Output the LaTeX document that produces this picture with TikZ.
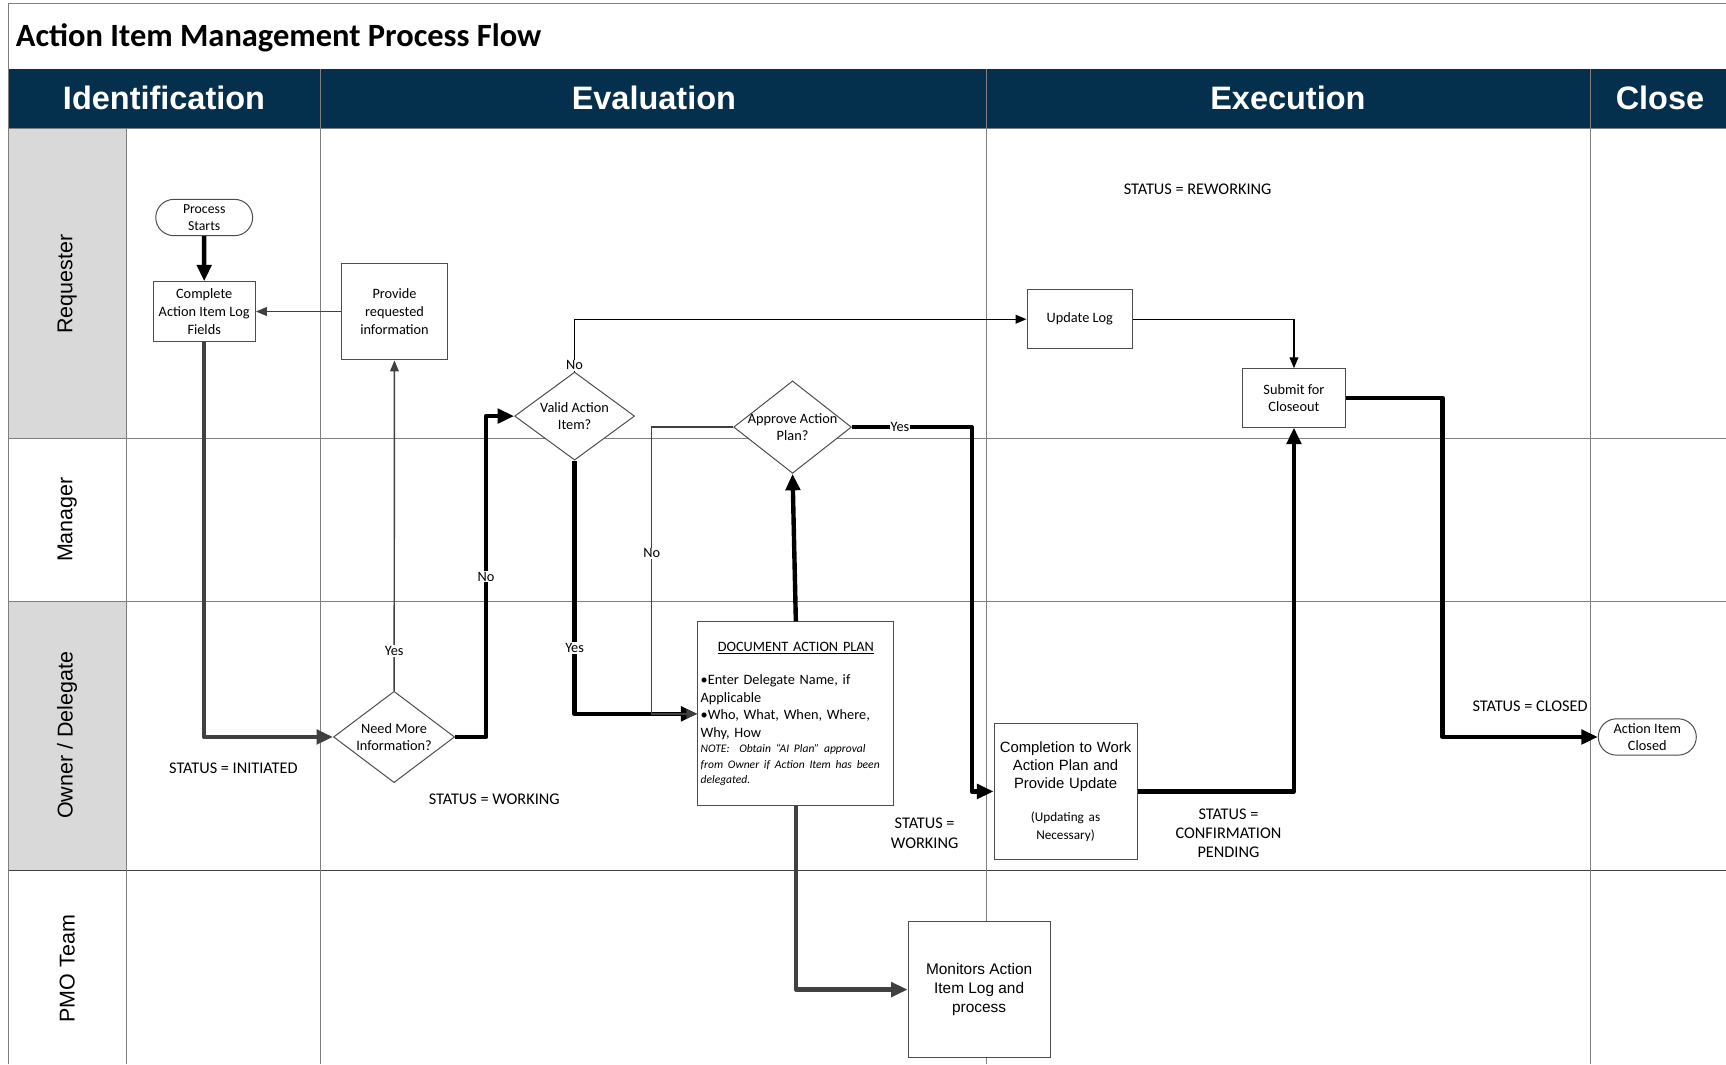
\documentclass[tikz,border=0pt]{standalone}
\usepackage{fontspec}
\setmainfont{Carlito}
\newfontfamily\arialfont{Liberation Sans}
\usepackage{tikz}
\usetikzlibrary{shapes.geometric, shapes.misc, positioning, arrows.meta}
\definecolor{navy}{HTML}{05304D}
\definecolor{lanegray}{HTML}{D9D9D9}
\definecolor{rulegray}{HTML}{7F7F7F}
\definecolor{flowgray}{HTML}{404040}
\newcommand{\boxfont}{\fontsize{13}{16}\selectfont}
\newcommand{\statusfont}{\fontsize{14.8}{17.5}\selectfont}
\newcommand{\arialbox}{\arialfont\fontsize{14}{17}\selectfont}
\newcommand{\headfont}{\arialfont\bfseries\fontsize{29.5}{32}\selectfont}
\newcommand{\lanefont}{\arialfont\fontsize{19.5}{22}\selectfont}
\tikzset{x=1pt, y=-1pt, >={Triangle[length=10pt,width=8pt]}}
\tikzset{
  proc/.style={draw=black!70, line width=0.9pt, fill=white, align=center, font=\boxfont, inner sep=3pt},
  term/.style={proc, rounded rectangle, minimum height=33pt, inner sep=1pt},
  decision/.style={draw=black!70, line width=0.9pt, fill=white, diamond, inner sep=0pt},
  dtxt/.style={align=center, font=\boxfont},
  status/.style={align=center, font=\statusfont},
  lbl/.style={fill=white, text=black, inner sep=1pt, font=\boxfont},
  thinflow/.style={->, line width=1.3pt},
  bigflow/.style={-{Triangle[length=15pt,width=13pt]}, line width=4pt, line join=round},
  header/.style={text=white, font=\headfont},
  lane/.style={rotate=90, font=\lanefont},
}

\begin{document}
\begin{tikzpicture}
\useasboundingbox (0,0) rectangle (1568,966.6);
% frame, header band and lanes
\draw[rulegray, line width=1pt] (8,967) -- (8,3) -- (1568,3);
\fill[navy] (8,63) rectangle (1568,117);
\fill[lanegray] (8,117) rectangle (115,398);
\fill[lanegray] (8,546) rectangle (115,791);
\foreach \y in {117,398,546} \draw[rulegray, line width=0.9pt] (8,\y) -- (1568,\y);
\draw[black!75, line width=1.2pt] (8,791) -- (1568,791);
\draw[rulegray, line width=0.9pt] (115,117) -- (115,967);
\foreach \x in {291,896,1445} \draw[rulegray, line width=0.9pt] (\x,63) -- (\x,967);

\node[anchor=west, font=\bfseries\fontsize{29.5}{32}\selectfont] (title) at (11,34.5) {Action Item Management Process Flow};
\node[header] (hident) at (149,89) {Identification};
\node[header] (heval) at (594,89) {Evaluation};
\node[header] (hexec) at (1170,89) {Execution};
\node[header] (hclose) at (1508,89) {Close};
\node[lane] (lreq) at (61,258) {Requester};
\node[lane] (lman) at (61,472) {Manager};
\node[lane] (lown) at (61,668) {Owner / Delegate};
\node[lane] (lpmo) at (61,880) {PMO Team};

% steps
\node[proc, minimum width=93pt, minimum height=54pt] (complete) at (185.5,283) {Complete\\Action Item Log\\Fields};
\node[term, minimum width=90pt, above=41pt of complete, font=\fontsize{12.5}{15}\selectfont] (start) {Process\\Starts};
\node[proc, minimum width=97pt, minimum height=88pt, right=77pt of complete] (provide) {Provide\\requested\\information};
\node[decision, minimum width=109pt, minimum height=80pt, label={[dtxt]center:Valid Action\\Item?}] (valid) at (522,378) {};
\node[decision, minimum width=107pt, minimum height=84pt, label={[dtxt]center:Approve Action\\Plan?}] (approve) at (720,388) {};
\node[decision, minimum width=110pt, minimum height=83pt, label={[dtxt]center:Need More\\Information?}] (need) at (358,669.5) {};
\node[proc, minimum width=178pt, minimum height=167pt, text width=173pt, align=left, inner sep=2.5pt] (docplan) at (723,648.5) {%
  {\centering\underline{DOCUMENT ACTION PLAN}\par}\vspace{14pt}\raggedright
  \textbullet Enter Delegate Name, if\\ Applicable\\
  \textbullet Who, What, When, Where,\\ Why, How\\
  {\fontsize{10.5}{14}\selectfont\itshape NOTE:\ \ Obtain “AI Plan” approval\\ from Owner if Action Item has been\\ delegated.\par}};
\node[proc, minimum width=96pt, minimum height=54pt] (updatelog) at (981,290) {Update Log};
\node[proc, minimum width=130pt, minimum height=124pt, text width=124pt] (completion) at (968,719) {%
  {\arialfont\fontsize{13.5}{16.5}\selectfont Completion to Work\\Action Plan and\\Provide Update\par}\vspace{14pt}
  {\fontsize{12}{16}\selectfont (Updating as\\Necessary)\par}};
\node[proc, minimum width=93pt, minimum height=53pt] (submit) at (1175.5,361.5) {Submit for\\Closeout};
\node[proc, minimum width=129pt, minimum height=124pt, font=\arialbox] (monitors) at (889.5,899) {Monitors Action\\Item Log and\\process};
\node[term, minimum width=91pt] (closed) at (1496.5,669.5) {Action Item\\Closed};

% status notes
\node[status] (streword) at (1088,172) {STATUS = REWORKING};
\node[status] (stinit) at (212,698) {STATUS = INITIATED};
\node[status] (stwork) at (449,726) {STATUS = WORKING};
\node[status] (stwork2) at (840,757) {STATUS =\\WORKING};
\node[status] (stconf) at (1116,757) {STATUS =\\CONFIRMATION\\PENDING};
\node[status] (stclosed) at (1390,642) {STATUS = CLOSED};

% flows
\draw[bigflow] (start) -- (complete);
\draw[thinflow, flowgray] (provide) -- (complete);
\draw[bigflow, flowgray] (complete) |- (need);
\draw[thinflow, flowgray] (need) -- node[lbl, pos=0.12]{Yes} (provide);
\draw[bigflow] (need.east) -- ++(28,0) |- node[lbl, pos=0.25]{No} (valid.west);
\draw[thinflow] (valid.north) |- node[lbl, pos=0.06]{No} (updatelog.west);
\draw[bigflow] (valid.south) |- node[lbl, pos=0.37]{Yes} (docplan.west);
\draw[thinflow, flowgray] (approve.west) -- ++(-74,0) |- node[lbl, pos=0.22]{No} (docplan.west);
\draw[bigflow] (docplan.north) -- (approve.south);
\draw[bigflow] (approve.east) -- node[lbl, pos=0.4]{Yes} ++(109,0) |- (completion.west);
\draw[thinflow] (updatelog.east) -| (submit.north);
\draw[bigflow] (completion.east) -| (submit.south);
\draw[bigflow] (submit.east) -- ++(88,0) |- (closed.west);
\draw[bigflow, flowgray] (docplan.south) |- (monitors.west);
\end{tikzpicture}
\end{document}
